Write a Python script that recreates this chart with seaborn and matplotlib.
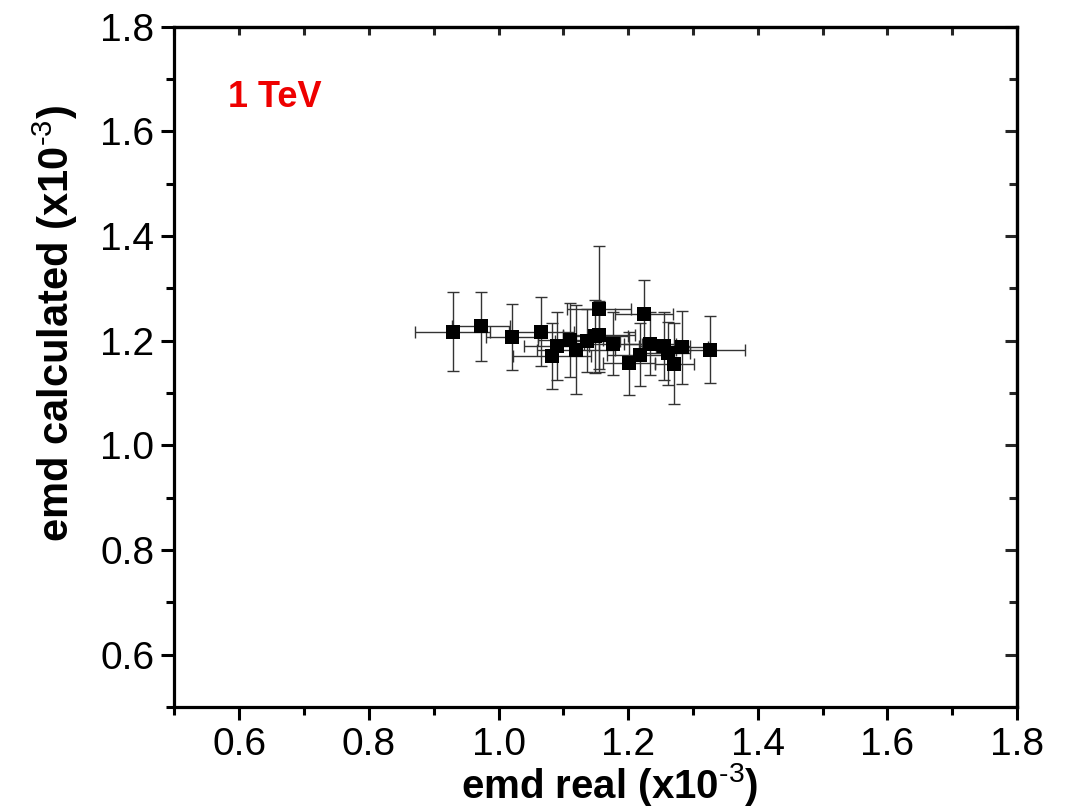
import matplotlib
matplotlib.use("Agg")
import matplotlib.pyplot as plt
import seaborn as sns
import pandas as pd
from matplotlib.ticker import MultipleLocator

emd_real = [0.929, 0.973, 1.021, 1.066, 1.083, 1.090, 1.111, 1.119, 1.137, 1.149, 1.155,
            1.155, 1.177, 1.201, 1.218, 1.224, 1.234, 1.256, 1.261, 1.271, 1.283, 1.327]
emd_calc = [1.217, 1.227, 1.206, 1.217, 1.171, 1.189, 1.201, 1.183, 1.200, 1.208, 1.210,
            1.260, 1.194, 1.157, 1.173, 1.250, 1.194, 1.190, 1.176, 1.156, 1.187, 1.183]
err_real = [0.058, 0.045, 0.040, 0.050, 0.060, 0.050, 0.050, 0.060, 0.050, 0.050, 0.055,
            0.050, 0.045, 0.040, 0.050, 0.045, 0.040, 0.040, 0.035, 0.030, 0.040, 0.053]
err_calc = [0.075, 0.066, 0.063, 0.066, 0.063, 0.065, 0.070, 0.085, 0.060, 0.070, 0.065,
            0.120, 0.060, 0.060, 0.060, 0.066, 0.060, 0.065, 0.060, 0.078, 0.070, 0.064]
tick_vals = [0.6, 0.8, 1.0, 1.2, 1.4, 1.6, 1.8]
tick_labels = ["0.6", "0.8", "1.0", "1.2", "1.4", "1.6", "1.8"]

df = pd.DataFrame({"real": emd_real, "calc": emd_calc, "xerr": err_real, "yerr": err_calc})

sns.set_theme(style="white")
plt.rcParams['font.family'] = ['Liberation Sans', 'DejaVu Sans']
plt.rcParams['mathtext.fontset'] = 'custom'
plt.rcParams['mathtext.rm'] = 'Liberation Sans'
plt.rcParams['mathtext.bf'] = 'Liberation Sans:bold'

fig = plt.figure(figsize=(10.65, 8.11), dpi=100)
ax = fig.add_axes([0.1638, 0.1282, 0.955 - 0.1638, 0.9673 - 0.1282])

ax.errorbar(df["real"], df["calc"], xerr=df["xerr"], yerr=df["yerr"], fmt='none',
            ecolor='#333333', elinewidth=1.0, capsize=4.5, capthick=1.0, zorder=2)
sns.scatterplot(data=df, x="real", y="calc", marker='s', s=100, color='black',
                edgecolor='black', linewidth=0, ax=ax, zorder=3)

ax.set_xlim(0.5, 1.8)
ax.set_ylim(0.5, 1.8)
ax.xaxis.set_minor_locator(MultipleLocator(0.1))
ax.yaxis.set_minor_locator(MultipleLocator(0.1))
ax.set_xticks(tick_vals)
ax.set_yticks(tick_vals)
ax.set_xticklabels(tick_labels)
ax.set_yticklabels(tick_labels)

for s in ax.spines.values():
    s.set_visible(True)
    s.set_color('black')
    s.set_linewidth(2.3)

ax.tick_params(axis='both', which='major', direction='out', length=9.5, width=2.2,
               labelsize=28, color='black', labelcolor='black', pad=5,
               bottom=True, left=True, top=False, right=False)
ax.tick_params(axis='both', which='minor', direction='out', length=6, width=2.2,
               color='black', bottom=True, left=True, top=False, right=False)

# mirrored inward ticks on top/right
axt = ax.secondary_xaxis('top')
axt.set_xticks(tick_vals)
axt.xaxis.set_minor_locator(MultipleLocator(0.1))
axt.tick_params(which='both', direction='in', length=6, width=2.2, labeltop=False)
axt.spines['top'].set_linewidth(2.3)
axr = ax.secondary_yaxis('right')
axr.set_yticks(tick_vals)
axr.yaxis.set_minor_locator(MultipleLocator(0.1))
axr.tick_params(which='major', direction='in', length=9, width=2.2, labelright=False)
axr.tick_params(which='minor', direction='in', length=6, width=2.2, labelright=False)
axr.spines['right'].set_linewidth(2.3)

ax.set_xlabel(r"emd real (x10$^{\text{-3}}$)", fontsize=29, fontweight='bold', color='black')
ax.set_ylabel(r"emd calculated (x10$^{\text{-3}}$)", fontsize=30, fontweight='bold', color='black')
ax.xaxis.set_label_coords(0.517, -0.079)
ax.yaxis.set_label_coords(-0.112, 0.563)

ax.text(0.064, 0.896, "1 TeV", transform=ax.transAxes, color='#ee0000', fontsize=26,
        fontweight='bold', ha='left', va='center')

fig.savefig("out.png", dpi=100)
